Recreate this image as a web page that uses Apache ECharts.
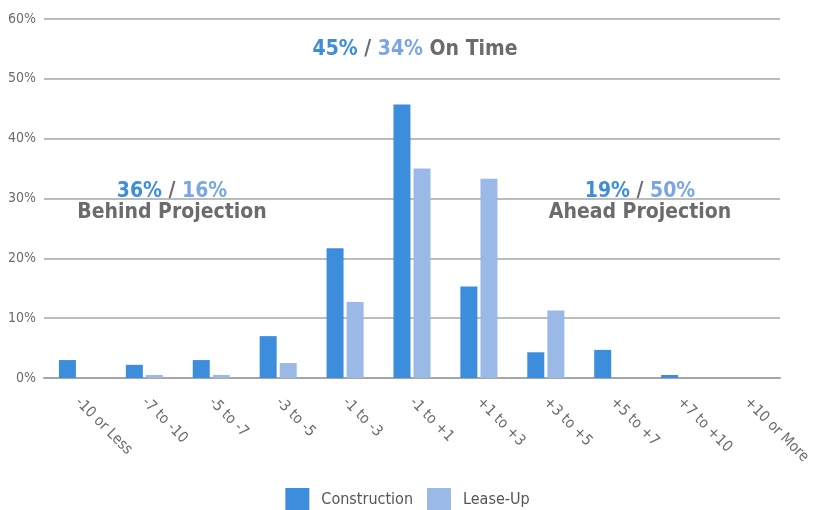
<!DOCTYPE html>
<html>
<head>
<meta charset="utf-8">
<script src="https://cdn.jsdelivr.net/npm/echarts@6/dist/echarts.min.js"></script>
<style>
  html, body { margin: 0; padding: 0; background: #fff; }
  #chart { width: 815px; height: 510px; }
</style>
</head>
<body>
<div id="chart"></div>
<script>
// months vs projection buckets
const categories = ["-10 or Less", "-7 to -10", "-5 to -7", "-3 to -5", "-1 to -3", "-1 to +1",
  "+1 to +3", "+3 to +5", "+5 to +7", "+7 to +10", "+10 or More"];
const construction = [3.0, 2.2, 3.0, 7.0, 21.7, 45.7, 15.3, 4.3, 4.7, 0.5, 0];
const leaseUp = [0, 0.5, 0.5, 2.5, 12.7, 35.0, 33.3, 11.3, 0, 0, 0];
const yTicks = [0, 10, 20, 30, 40, 50, 60];

const onTime = ["45%", "34%"];
const behind = ["36%", "16%"];
const ahead = ["19%", "50%"];

const C1 = "#3d8ddd";
const C2 = "#9bb9e6";
const GREY = "#6b6b6e";
const FONT = '"Liberation Sans Narrow", "DejaVu Sans Condensed", "Roboto Condensed", sans-serif';

const rich = {
  a: { fill: C1, fontSize: 21, fontWeight: "bold", fontFamily: FONT },
  b: { fill: "#7aa6e6", fontSize: 21, fontWeight: "bold", fontFamily: FONT },
  s: { fill: GREY, fontSize: 21, fontWeight: "bold", fontFamily: FONT },
  g: { fill: GREY, fontSize: 21, fontWeight: "bold", fontFamily: FONT }
};

function note(x, y, text) {
  return {
    type: "text", x: x, y: y,
    style: { text: text, rich: rich, fill: GREY, font: "bold 21px " + FONT, align: "center", verticalAlign: "middle" }
  };
}

const chart = echarts.init(document.getElementById("chart"));
chart.setOption({
  animation: false,
  grid: { left: 44, right: 35, top: 19, bottom: 132 },
  legend: {
    bottom: -7,
    left: "center",
    itemWidth: 24,
    itemHeight: 24,
    itemGap: 14,
    icon: "rect",
    textStyle: { color: "#555558", fontSize: 16, fontFamily: FONT, padding: [0, 0, 0, 7] },
    data: ["Construction", "Lease-Up"]
  },
  xAxis: {
    type: "category",
    data: categories,
    axisTick: { show: false },
    axisLine: { lineStyle: { color: "#a6a6a6", width: 2 } },
    axisLabel: {
      interval: 0,
      rotate: -45,
      margin: 22,
      color: GREY,
      fontSize: 15,
      fontFamily: FONT
    }
  },
  yAxis: {
    type: "value",
    min: 0,
    max: yTicks[yTicks.length - 1],
    interval: 10,
    axisLabel: {
      formatter: "{value}%",
      color: GREY,
      fontSize: 14,
      fontFamily: FONT,
      margin: 8
    },
    splitLine: { lineStyle: { color: "#a6a6a6", width: 1.5 } }
  },
  series: [
    { name: "Construction", type: "bar", data: construction, barWidth: 17, barGap: "18%", itemStyle: { color: C1 } },
    { name: "Lease-Up", type: "bar", data: leaseUp, barWidth: 17, itemStyle: { color: C2 } }
  ],
  graphic: [
    note(415, 50, "{a|" + onTime[0] + "}{s| / }{b|" + onTime[1] + "}{g| On Time}"),
    note(172, 202, "{a|" + behind[0] + "}{s| / }{b|" + behind[1] + "}\n{g|Behind Projection}"),
    note(640, 202, "{a|" + ahead[0] + "}{s| / }{b|" + ahead[1] + "}\n{g|Ahead Projection}")
  ]
});
</script>
</body>
</html>
